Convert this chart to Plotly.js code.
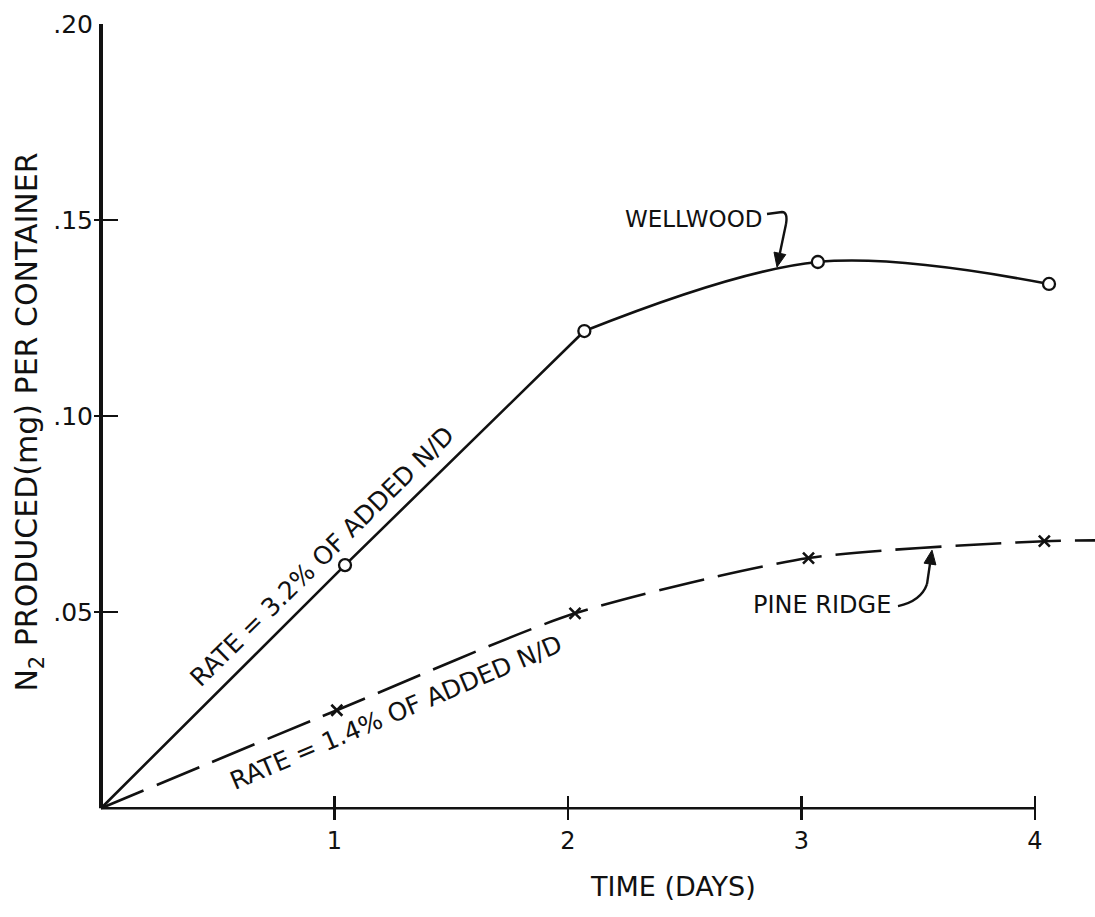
<!DOCTYPE html>
<html>
<head>
<meta charset="utf-8">
<script src="https://cdn.plot.ly/plotly-3.0.1.min.js"></script>
<style>html,body{margin:0;padding:0;background:#fff}#chart{width:1095px;height:917px}</style>
</head>
<body>
<div id="chart"></div>
<script>
// ---- data ----
const wellwoodX = [0, 1.045, 2.07, 3.07, 4.06];
const wellwoodY = [0, 0.062, 0.1217, 0.1393, 0.1337];
const pineX = [0, 1.01, 2.03, 3.03, 4.04];
const pineY = [0, 0.025, 0.0497, 0.0638, 0.0681];
const pineTailX = [4.04, 4.26];
const pineTailY = [0.0681, 0.0683];
const xTickVals = [1, 2, 3, 4];
const xTickText = ['1', '2', '3', '4'];
const yTickVals = [0.05, 0.10, 0.15, 0.20];
const yTickText = ['.05', '.10', '.15', '.20'];

// ---- layout geometry ----
const W = 1095, H = 917;
const X0PX = 101, PXPERDAY = 233.5;
const Y0PX = 808, PXPERUNIT = 3920;
const xMin = -0.03, xMax = (W - X0PX) / PXPERDAY;
const yMin = -0.003, yMax = 0.2;
const mL = Math.round(X0PX + xMin * PXPERDAY);
const mT = Math.round(Y0PX - yMax * PXPERUNIT);
const plotBottom = Y0PX - yMin * PXPERUNIT;
const mB = Math.round(H - plotBottom);
const plotH = H - mT - mB;
// helpers for placing annotations given picture positions
const X = px => (px - X0PX) / PXPERDAY;
const Y = py => (Y0PX - py) / PXPERUNIT;
const PY = py => (H - mB - py) / plotH; // paper y

function arrowHead(tail, tip, len, half) {
  const dx = tip[0] - tail[0], dy = tip[1] - tail[1];
  const n = Math.hypot(dx, dy), ux = dx / n, uy = dy / n;
  const bx = tip[0] - len * ux, by = tip[1] - len * uy;
  const p1 = [bx - half * uy, by + half * ux], p2 = [bx + half * uy, by - half * ux];
  return {
    stem: `M ${X(tail[0])},${Y(tail[1])} L ${X(bx)},${Y(by)}`,
    head: `M ${X(tip[0])},${Y(tip[1])} L ${X(p1[0])},${Y(p1[1])} L ${X(p2[0])},${Y(p2[1])} Z`
  };
}
const wArrow = arrowHead([786, 224], [777, 267], 14, 6);
const pArrow = arrowHead([927, 584], [932, 550], 14, 6);

const FONT = 'DejaVu Sans, Verdana, sans-serif';
const black = '#111';

const traces = [
  // straight "rate" part of Wellwood (origin to day 2)
  {x: wellwoodX.slice(0, 3), y: wellwoodY.slice(0, 3), mode: 'lines', line: {color: black, width: 2.6}, hoverinfo: 'skip', showlegend: false},
  // curved part of Wellwood (day 2 onward)
  {x: wellwoodX.slice(2), y: wellwoodY.slice(2), mode: 'lines', line: {color: black, width: 2.6, shape: 'spline', smoothing: 1}, hoverinfo: 'skip', showlegend: false},
  {x: wellwoodX.slice(1), y: wellwoodY.slice(1), mode: 'markers', name: 'WELLWOOD',
   marker: {symbol: 'circle', size: 12, color: '#fff', line: {color: black, width: 2.3}}, showlegend: false},
  {x: pineX.concat(pineTailX.slice(1)), y: pineY.concat(pineTailY.slice(1)), mode: 'lines',
   line: {color: black, width: 2.6, shape: 'spline', smoothing: 0.7, dash: '46px,14px'}, hoverinfo: 'skip', showlegend: false},
  {x: pineX.slice(1), y: pineY.slice(1), mode: 'markers', name: 'PINE RIDGE',
   marker: {symbol: 'x-thin', size: 11, color: black, line: {color: black, width: 2.6}}, showlegend: false}
];

const lineStyle = {color: black, width: 2.4};
const layout = {
  width: W, height: H,
  margin: {l: mL, r: 0, t: mT, b: mB, pad: 0},
  paper_bgcolor: '#fff', plot_bgcolor: '#fff',
  font: {family: FONT, color: black},
  showlegend: false,
  xaxis: {
    range: [xMin, xMax], showgrid: false, zeroline: false, showline: false,
    tickmode: 'array', tickvals: xTickVals, ticktext: xTickText,
    ticks: 'inside', ticklen: 24, tickwidth: 2.5, tickcolor: black,
    tickfont: {family: FONT, size: 24, color: black}, ticklabelstandoff: 4
  },
  yaxis: {
    range: [yMin, yMax], showgrid: false, zeroline: false, showline: false,
    tickmode: 'array', tickvals: yTickVals, ticktext: yTickText,
    ticks: 'inside', ticklen: 24, tickwidth: 2.5, tickcolor: black,
    tickfont: {family: FONT, size: 25, color: black},
    title: {text: 'N<sub>2</sub> PRODUCED(mg) PER CONTAINER', font: {family: FONT, size: 30, color: black}, standoff: 6}
  },
  shapes: [
    {type: 'line', xref: 'x', yref: 'y', x0: 0, y0: 0, x1: 0, y1: yMax, line: {color: black, width: 4}},
    {type: 'line', xref: 'x', yref: 'y', x0: 0, y0: 0, x1: 4, y1: 0, line: {color: black, width: 2.6}},
    {type: 'path', xref: 'x', yref: 'y', line: lineStyle,
     path: `M ${X(767)},${Y(214)} L ${X(782)},${Y(212)} Q ${X(788)},${Y(212)} ${X(786)},${Y(224)}`},
    {type: 'path', xref: 'x', yref: 'y', line: lineStyle, path: wArrow.stem},
    {type: 'path', xref: 'x', yref: 'y', line: {color: black, width: 1}, fillcolor: black, path: wArrow.head},
    {type: 'path', xref: 'x', yref: 'y', line: lineStyle,
     path: `M ${X(898)},${Y(606)} Q ${X(921)},${Y(601)} ${X(927)},${Y(584)}`},
    {type: 'path', xref: 'x', yref: 'y', line: lineStyle, path: pArrow.stem},
    {type: 'path', xref: 'x', yref: 'y', line: {color: black, width: 1}, fillcolor: black, path: pArrow.head}
  ],
  annotations: [
    {xref: 'x', yref: 'paper', x: X(673), y: PY(886), yanchor: 'middle', xanchor: 'center', text: 'TIME (DAYS)', showarrow: false,
     font: {family: FONT, size: 27, color: black}},
    {xref: 'x', yref: 'y', x: X(322), y: Y(556), text: 'RATE = 3.2% OF ADDED N/D', showarrow: false,
     textangle: -44.5, font: {family: FONT, size: 25, color: black}},
    {xref: 'x', yref: 'y', x: X(396), y: Y(712), text: 'RATE = 1.4% OF ADDED N/D', showarrow: false,
     textangle: -23, font: {family: FONT, size: 25, color: black}},
    {xref: 'x', yref: 'y', x: X(693), y: Y(219), text: 'WELLWOOD', showarrow: false,
     font: {family: FONT, size: 23, color: black}},
    {xref: 'x', yref: 'y', x: X(822), y: Y(605), text: 'PINE RIDGE', showarrow: false,
     font: {family: FONT, size: 24, color: black}}
  ]
};

Plotly.newPlot('chart', traces, layout, {staticPlot: true, displayModeBar: false});
</script>
</body>
</html>
